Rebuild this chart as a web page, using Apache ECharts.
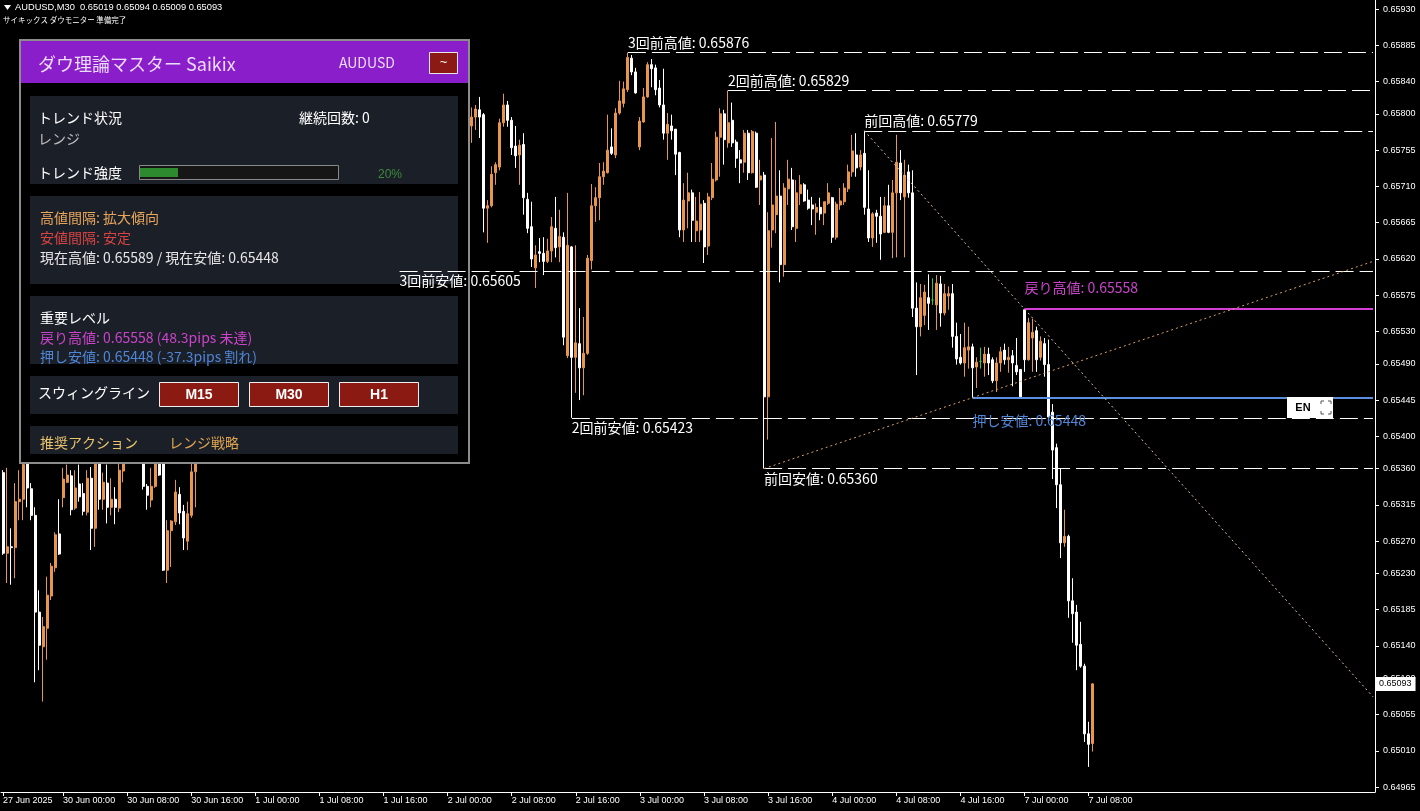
<!DOCTYPE html>
<html><head><meta charset="utf-8">
<script src="https://cdn.jsdelivr.net/npm/echarts@6/dist/echarts.min.js"></script>
<style>html,body{margin:0;padding:0;background:#000;overflow:hidden}#c{width:1420px;height:811px}</style>
</head><body><div id="c"></div>
<script>
// ---------- DATA ----------
const symbolInfo = 'AUDUSD,M30  0.65019 0.65094 0.65009 0.65093';
const statusText = 'サイキックス ダウモニター 準備完了';
// session days: [day label, first half-hour slot, end slot]
const sessionDays = [['27 Jun',33,48],['30 Jun',0,48],['1 Jul',0,48],['2 Jul',0,48],['3 Jul',0,48],['4 Jul',0,48],['7 Jul',0,48],['8 Jul',0,48]];
const visibleBars = 343;
const xTickCats = ['27 Jun 16:30','30 Jun 00:00','30 Jun 08:00','30 Jun 16:00','1 Jul 00:00','1 Jul 08:00','1 Jul 16:00','2 Jul 00:00','2 Jul 08:00','2 Jul 16:00','3 Jul 00:00','3 Jul 08:00','3 Jul 16:00','4 Jul 00:00','4 Jul 08:00','4 Jul 16:00','7 Jul 00:00','7 Jul 08:00'];
const xTickText = ['27 Jun 2025','30 Jun 00:00','30 Jun 08:00','30 Jun 16:00','1 Jul 00:00','1 Jul 08:00','1 Jul 16:00','2 Jul 00:00','2 Jul 08:00','2 Jul 16:00','3 Jul 00:00','3 Jul 08:00','3 Jul 16:00','4 Jul 00:00','4 Jul 08:00','4 Jul 16:00','7 Jul 00:00','7 Jul 08:00'];
const yTickLabels = ['0.65930','0.65885','0.65840','0.65800','0.65755','0.65710','0.65665','0.65620','0.65575','0.65530','0.65490','0.65445','0.65400','0.65360','0.65315','0.65270','0.65230','0.65185','0.65140','0.65100','0.65055','0.65010','0.64965'];
const priceMin = 0.649589, priceMax = 0.659412;

const opens = [0.65355,0.65255,0.65263,0.65262,0.65319,0.65322,0.65368,0.65335,0.65302,0.65182,0.65139,0.65162,0.65202,0.65237,0.65279,0.65324,0.65343,0.65351,0.65311,0.65341,0.65329,0.65306,0.65348,0.65286,0.65377,0.65322,0.65342,0.65312,0.65322,0.65311,0.65357,0.65377,0.65395,0.65388,0.65400,0.65385,0.65338,0.65321,0.65338,0.65377,0.65373,0.65234,0.65283,0.65294,0.65328,0.65307,0.65270,0.65302,0.65356,
0.65377,0.65388,0.65401,0.65396,0.65414,0.65428,0.65420,0.65433,0.65450,0.65462,0.65455,0.65468,0.65485,0.65476,0.65488,0.65505,0.65515,0.65510,0.65524,0.65540,0.65552,0.65546,0.65565,0.65584,0.65594,0.65605,0.65598,0.65620,0.65640,0.65655,0.65648,0.65662,0.65684,0.65698,0.65690,0.65706,0.65721,0.65715,0.65702,0.65690,0.65676,0.65688,0.65670,0.65655,0.65664,0.65650,0.65636,0.65645,0.65630,0.65618,0.65628,0.65622,0.65645,0.65662,0.65684,0.65696,0.65714,0.65728,0.65740,0.65730,0.65752,0.65768,0.65760,0.65776,0.65788,0.65778,0.65790,0.65798,
0.65785,0.65796,0.65805,0.65799,0.65683,0.65686,0.65727,0.65734,0.65789,0.65811,0.65792,0.65760,0.65749,0.65762,0.65694,0.65660,0.65609,0.65629,0.65627,0.65617,0.65630,0.65658,0.65635,0.65647,0.65500,0.65635,0.65498,0.65515,0.65485,0.65503,0.65618,0.65686,0.65696,0.65722,0.65727,0.65759,0.65749,0.65801,0.65813,0.65830,0.65869,0.65852,0.65759,0.65790,0.65821,0.65861,0.65857,0.65832,0.65811,0.65776,0.65785,0.65781,0.65752,0.65656,0.65692,0.65702,0.65655,0.65656,0.65689,0.65636,0.65696,0.65718,0.65771,0.65800,0.65764,0.65792,0.65765,0.65743,0.65740,0.65776,0.65727,0.65776,0.65718,0.65724,0.65449,0.65656,0.65675,0.65698,0.65613,0.65707,0.65718,0.65658,0.65701,0.65712,0.65693,0.65687,0.65678,0.65684,0.65677,0.65689,0.65696,0.65647,0.65687,0.65691,0.65707,0.65728,0.65749,0.65734,0.65751,0.65682,0.65646,0.65677,0.65673,0.65653,0.65686,0.65653,0.65702,0.65739,0.65697,0.65728,0.65702,0.65559,0.65536,0.65550,0.65572,0.65569,0.65563,0.65589,0.65553,0.65574,0.65577,0.65524,0.65498,0.65491,0.65507,0.65511,0.65486,0.65493,0.65491,0.65502,0.65495,0.65469,0.65491,0.65507,0.65495,0.65500,0.65488,0.65483,0.65557,0.65495,0.65522,0.65531,0.65498,0.65515,0.65489,0.65430,0.65386,0.65340,0.65268,0.65276,0.65196,0.65182,0.65142,0.65115,0.65031,0.65019];
const highs = [0.65358,0.65361,0.65286,0.65342,0.65358,0.65377,0.65385,0.65342,0.65312,0.65209,0.65176,0.65226,0.65243,0.65281,0.65322,0.65361,0.65365,0.65358,0.65358,0.65365,0.65342,0.65358,0.65362,0.65389,0.65386,0.65355,0.65365,0.65348,0.65337,0.65371,0.65389,0.65405,0.65410,0.65412,0.65410,0.65395,0.65341,0.65361,0.65383,0.65385,0.65380,0.65296,0.65296,0.65346,0.65337,0.65315,0.65319,0.65372,0.65389,
0.65392,0.65405,0.65412,0.65418,0.65432,0.65440,0.65436,0.65455,0.65468,0.65475,0.65472,0.65490,0.65498,0.65492,0.65510,0.65522,0.65530,0.65528,0.65545,0.65558,0.65566,0.65570,0.65590,0.65600,0.65612,0.65618,0.65625,0.65645,0.65662,0.65672,0.65668,0.65690,0.65705,0.65715,0.65712,0.65728,0.65740,0.65732,0.65718,0.65705,0.65694,0.65700,0.65682,0.65672,0.65676,0.65662,0.65650,0.65655,0.65642,0.65635,0.65640,0.65650,0.65668,0.65690,0.65702,0.65720,0.65735,0.65748,0.65752,0.65758,0.65775,0.65785,0.65782,0.65795,0.65802,0.65796,0.65806,0.65808,
0.65808,0.65811,0.65821,0.65801,0.65693,0.65735,0.65740,0.65794,0.65825,0.65816,0.65796,0.65785,0.65768,0.65776,0.65702,0.65691,0.65637,0.65646,0.65647,0.65645,0.65672,0.65697,0.65681,0.65653,0.65702,0.65636,0.65637,0.65559,0.65548,0.65625,0.65713,0.65709,0.65739,0.65740,0.65799,0.65782,0.65807,0.65841,0.65840,0.65876,0.65873,0.65857,0.65796,0.65832,0.65864,0.65868,0.65861,0.65842,0.65856,0.65801,0.65799,0.65781,0.65753,0.65714,0.65727,0.65706,0.65697,0.65703,0.65693,0.65702,0.65739,0.65778,0.65807,0.65805,0.65829,0.65814,0.65768,0.65755,0.65780,0.65780,0.65780,0.65778,0.65743,0.65728,0.65678,0.65770,0.65790,0.65730,0.65714,0.65743,0.65733,0.65718,0.65724,0.65714,0.65706,0.65697,0.65689,0.65696,0.65691,0.65714,0.65697,0.65691,0.65708,0.65714,0.65737,0.65774,0.65776,0.65755,0.65779,0.65730,0.65678,0.65681,0.65697,0.65697,0.65712,0.65718,0.65774,0.65755,0.65743,0.65737,0.65730,0.65591,0.65589,0.65588,0.65601,0.65596,0.65600,0.65599,0.65589,0.65586,0.65589,0.65541,0.65527,0.65541,0.65536,0.65515,0.65498,0.65510,0.65511,0.65510,0.65498,0.65498,0.65511,0.65515,0.65511,0.65507,0.65522,0.65483,0.65558,0.65547,0.65546,0.65536,0.65524,0.65522,0.65520,0.65440,0.65391,0.65360,0.65309,0.65278,0.65224,0.65191,0.65170,0.65118,0.65046,0.65094];
const lows = [0.65253,0.65218,0.65216,0.65224,0.65296,0.65296,0.65312,0.65296,0.65095,0.65110,0.65071,0.65123,0.65197,0.65232,0.65253,0.65312,0.65342,0.65302,0.65309,0.65319,0.65302,0.65302,0.65259,0.65263,0.65309,0.65309,0.65292,0.65302,0.65291,0.65306,0.65343,0.65370,0.65380,0.65379,0.65372,0.65334,0.65309,0.65312,0.65336,0.65351,0.65233,0.65218,0.65238,0.65290,0.65291,0.65259,0.65259,0.65299,0.65312,
0.65372,0.65380,0.65393,0.65390,0.65409,0.65415,0.65412,0.65428,0.65442,0.65448,0.65446,0.65462,0.65470,0.65465,0.65480,0.65497,0.65505,0.65498,0.65518,0.65532,0.65540,0.65541,0.65560,0.65572,0.65585,0.65590,0.65594,0.65612,0.65630,0.65640,0.65636,0.65655,0.65672,0.65680,0.65676,0.65700,0.65708,0.65695,0.65685,0.65670,0.65660,0.65665,0.65648,0.65640,0.65645,0.65630,0.65620,0.65625,0.65612,0.65610,0.65605,0.65615,0.65638,0.65655,0.65670,0.65688,0.65700,0.65715,0.65722,0.65726,0.65745,0.65752,0.65748,0.65765,0.65770,0.65768,0.65780,0.65780,
0.65764,0.65780,0.65770,0.65653,0.65640,0.65684,0.65712,0.65730,0.65784,0.65784,0.65749,0.65733,0.65712,0.65675,0.65652,0.65610,0.65584,0.65616,0.65600,0.65615,0.65616,0.65622,0.65616,0.65513,0.65497,0.65423,0.65454,0.65445,0.65451,0.65501,0.65607,0.65666,0.65668,0.65712,0.65726,0.65749,0.65745,0.65799,0.65808,0.65827,0.65848,0.65825,0.65755,0.65789,0.65820,0.65833,0.65823,0.65808,0.65768,0.65743,0.65768,0.65724,0.65647,0.65641,0.65658,0.65641,0.65641,0.65641,0.65615,0.65625,0.65693,0.65716,0.65722,0.65737,0.65758,0.65759,0.65733,0.65714,0.65727,0.65718,0.65726,0.65708,0.65687,0.65360,0.65396,0.65634,0.65652,0.65591,0.65598,0.65687,0.65656,0.65641,0.65687,0.65691,0.65681,0.65662,0.65650,0.65668,0.65662,0.65687,0.65640,0.65644,0.65681,0.65687,0.65703,0.65722,0.65722,0.65730,0.65675,0.65641,0.65635,0.65640,0.65619,0.65652,0.65652,0.65621,0.65622,0.65693,0.65622,0.65696,0.65548,0.65476,0.65524,0.65538,0.65532,0.65563,0.65532,0.65536,0.65550,0.65557,0.65510,0.65489,0.65489,0.65474,0.65484,0.65448,0.65460,0.65484,0.65474,0.65476,0.65466,0.65455,0.65480,0.65489,0.65479,0.65462,0.65476,0.65449,0.65480,0.65494,0.65480,0.65480,0.65494,0.65474,0.65421,0.65347,0.65311,0.65249,0.65263,0.65175,0.65144,0.65110,0.65113,0.65021,0.64990,0.65009];
const closes = [0.65255,0.65263,0.65262,0.65319,0.65322,0.65365,0.65336,0.65302,0.65182,0.65141,0.65164,0.65203,0.65239,0.65278,0.65254,0.65347,0.65352,0.65309,0.65336,0.65325,0.65307,0.65348,0.65286,0.65377,0.65322,0.65343,0.65312,0.65322,0.65312,0.65358,0.65377,0.65395,0.65388,0.65400,0.65385,0.65338,0.65327,0.65338,0.65373,0.65352,0.65234,0.65283,0.65295,0.65331,0.65305,0.65274,0.65304,0.65356,0.65377,
0.65388,0.65401,0.65396,0.65414,0.65428,0.65420,0.65433,0.65450,0.65462,0.65455,0.65468,0.65485,0.65476,0.65488,0.65505,0.65515,0.65510,0.65524,0.65540,0.65552,0.65546,0.65565,0.65584,0.65594,0.65605,0.65598,0.65620,0.65640,0.65655,0.65648,0.65662,0.65684,0.65698,0.65690,0.65706,0.65721,0.65715,0.65702,0.65690,0.65676,0.65688,0.65670,0.65655,0.65664,0.65650,0.65636,0.65645,0.65630,0.65618,0.65628,0.65622,0.65645,0.65662,0.65684,0.65696,0.65714,0.65728,0.65740,0.65730,0.65752,0.65768,0.65760,0.65776,0.65788,0.65778,0.65790,0.65798,0.65785,
0.65796,0.65806,0.65796,0.65683,0.65686,0.65725,0.65737,0.65789,0.65811,0.65792,0.65758,0.65748,0.65761,0.65696,0.65658,0.65620,0.65625,0.65627,0.65617,0.65630,0.65660,0.65634,0.65648,0.65523,0.65637,0.65498,0.65516,0.65485,0.65503,0.65621,0.65686,0.65696,0.65722,0.65729,0.65755,0.65751,0.65801,0.65816,0.65831,0.65870,0.65852,0.65826,0.65791,0.65821,0.65861,0.65856,0.65830,0.65811,0.65776,0.65787,0.65779,0.65750,0.65656,0.65693,0.65702,0.65668,0.65667,0.65688,0.65635,0.65697,0.65719,0.65771,0.65800,0.65768,0.65789,0.65764,0.65745,0.65739,0.65776,0.65727,0.65778,0.65709,0.65723,0.65449,0.65655,0.65687,0.65698,0.65613,0.65708,0.65719,0.65660,0.65702,0.65712,0.65692,0.65683,0.65682,0.65684,0.65676,0.65691,0.65702,0.65647,0.65688,0.65692,0.65708,0.65728,0.65754,0.65733,0.65749,0.65684,0.65646,0.65676,0.65673,0.65651,0.65686,0.65653,0.65702,0.65740,0.65702,0.65724,0.65702,0.65559,0.65536,0.65572,0.65579,0.65565,0.65569,0.65590,0.65553,0.65577,0.65577,0.65524,0.65496,0.65491,0.65510,0.65511,0.65485,0.65492,0.65493,0.65502,0.65491,0.65469,0.65491,0.65505,0.65495,0.65498,0.65491,0.65480,0.65449,0.65495,0.65541,0.65529,0.65495,0.65518,0.65489,0.65424,0.65383,0.65340,0.65268,0.65276,0.65196,0.65180,0.65141,0.65115,0.65031,0.65018,0.65093];

// swing levels: [label, start bar (category), price, above/below]
const swingLevels = [
  ['3回前高値', '2 Jul 22:30', 0.65876, 'top'],
  ['2回前高値', '3 Jul 11:00', 0.65829, 'top'],
  ['前回高値',  '4 Jul 04:00', 0.65779, 'top'],
  ['3回前安値', '1 Jul 18:00', 0.65605, 'bottom'],
  ['2回前安値', '2 Jul 15:30', 0.65423, 'bottom'],
  ['前回安値',  '3 Jul 15:30', 0.65360, 'bottom']
];
const returnHigh = ['戻り高値', '7 Jul 00:00', 0.65558];
const pushLow = ['押し安値', '4 Jul 17:30', 0.65448];
// trend lines: [start cat, start price, end price at right edge]
const trendLow = ['3 Jul 15:30', 0.65360, 0.65617];
const trendHigh = ['4 Jul 04:00', 0.65779, 0.65077];
const lastPrice = 0.65093;

// ---------- BUILD ----------
const pad = n => (n < 10 ? '0' : '') + n;
const categories = [];
sessionDays.forEach(([d, s, e]) => { for (let k = s; k < e; k++) categories.push(d + ' ' + pad(Math.floor(k / 2)) + ':' + (k % 2 ? '30' : '00')); });
categories.length = visibleBars;
const lastCat = categories[categories.length - 1];
const ohlc = opens.map((o, i) => [o, closes[i], lows[i], highs[i]]);
const tickMap = {}; xTickCats.forEach((c, i) => tickMap[c] = xTickText[i]);
const isTick = (i, v) => tickMap[v] !== undefined;

const CJK = '"Noto Sans CJK JP", "Noto Sans CJK SC", sans-serif';
const markData = [];
swingLevels.forEach(([name, cat, p, side]) => {
  markData.push([
    { coord: [cat, p], lineStyle: { color: '#ffffff', type: [18, 6], width: 1 },
      label: { show: true, position: side === 'top' ? 'insideStartTop' : 'insideStartBottom', formatter: name + ': ' + p.toFixed(5), color: '#ffffff', fontSize: 14, fontFamily: CJK, distance: [0, 3] } },
    { coord: [lastCat, p] }
  ]);
});
markData.push([
  { coord: [returnHigh[1], returnHigh[2]], lineStyle: { color: '#d63fd6', type: 'solid', width: 2 },
    label: { show: true, position: 'insideStartTop', formatter: returnHigh[0] + ': ' + returnHigh[2].toFixed(5), color: '#cc44cc', fontSize: 14, fontFamily: CJK, distance: [0, 14] } },
  { coord: [lastCat, returnHigh[2]] }
]);
markData.push([
  { coord: [pushLow[1], pushLow[2]], lineStyle: { color: '#5b8fe0', type: 'solid', width: 2 },
    label: { show: true, position: 'insideStartBottom', formatter: pushLow[0] + ': ' + pushLow[2].toFixed(5), color: '#4f86d8', fontSize: 14, fontFamily: CJK, distance: [0, 16] } },
  { coord: [lastCat, pushLow[2]] }
]);
markData.push([
  { coord: [trendLow[0], trendLow[1]], lineStyle: { color: '#d9a066', type: [2, 3], width: 1 }, label: { show: false } },
  { coord: [lastCat, trendLow[2]] }
]);
markData.push([
  { coord: [trendHigh[0], trendHigh[1]], lineStyle: { color: '#dcc2a2', type: [2, 3], width: 1 }, label: { show: false } },
  { coord: [lastCat, trendHigh[2]] }
]);
markData.push([
  { coord: [categories[0], lastPrice], lineStyle: { color: 'rgba(0,0,0,0)', width: 1 },
    label: { show: true, position: 'end', formatter: lastPrice.toFixed(5), color: '#000000', backgroundColor: '#ffffff', fontSize: 9, fontFamily: 'Liberation Sans', padding: [3, 4, 2, 4], distance: 2 } },
  { coord: [lastCat, lastPrice] }
]);

// ---------- PANEL (UI overlay) ----------
const G = [];
const rect = (x, y, w, h, fill, stroke, lw, z) => G.push({ type: 'rect', shape: { x, y, width: w, height: h }, style: { fill, stroke: stroke || null, lineWidth: lw || 0 }, z: z || 4, silent: true });
const text = (x, y, t, fill, size, opt, z) => G.push({ type: 'text', z: z || 6, silent: true, style: Object.assign({ text: t, x, y, fill, fontSize: size, fontFamily: CJK, verticalAlign: 'middle', align: 'left' }, opt || {}) });
// header
G.push({ type: 'polygon', shape: { points: [[4, 5], [11, 5], [7.5, 10]] }, style: { fill: '#ffffff' }, z: 6, silent: true });
text(15, 7.5, symbolInfo, '#ffffff', 9.3, { fontFamily: 'Liberation Sans' });
text(3, 20, statusText, '#ffffff', 7.5);
// panel
rect(20, 40, 449, 423, '#000000', '#8c8c8c', 2, 3);
rect(21, 41, 447, 42, '#8a1ecb', null, 0, 4);
text(38, 64, 'ダウ理論マスター Saikix', '#eadcf6', 18);
text(339, 63, 'AUDUSD', '#eadcf6', 14);
rect(429.5, 52.5, 28, 21, '#8b1a14', '#e6e6e6', 1, 5);
text(443.5, 62, '~', '#ffffff', 13, { align: 'center', fontFamily: 'Liberation Sans' });
const secBg = '#1b1f28';
rect(30, 96, 428, 88, secBg);
text(38, 118, 'トレンド状況', '#ffffff', 14);
text(299, 118, '継続回数: 0', '#ffffff', 14);
text(38, 139, 'レンジ', '#bdbdbd', 14);
text(38, 173, 'トレンド強度', '#ffffff', 14);
rect(139.5, 165.5, 199, 14, '#161616', '#8a8a8a', 1, 5);
rect(140, 168, 38, 9, '#2e8a2e', null, 0, 6);
text(378, 175, '20%', '#3d8a3d', 12, { fontFamily: 'Liberation Sans' });
rect(30, 196, 428, 88, secBg);
text(40, 218, '高値間隔: 拡大傾向', '#e8a65c', 14);
text(40, 238, '安値間隔: 安定', '#d84444', 14);
text(40, 258, '現在高値: 0.65589 / 現在安値: 0.65448', '#e6e6e6', 14);
rect(30, 296, 428, 68, secBg);
text(40, 318, '重要レベル', '#ffffff', 14);
text(40, 338, '戻り高値: 0.65558 (48.3pips 未達)', '#cc44cc', 14);
text(40, 357, '押し安値: 0.65448 (-37.3pips 割れ)', '#4f86d8', 14);
rect(30, 376, 428, 38, secBg);
text(38, 393, 'スウィングライン', '#ffffff', 14);
[['M15', 159], ['M30', 249], ['H1', 339]].forEach(([t, x]) => {
  rect(x + 0.5, 382.5, 79, 24, '#8b1a12', '#f0f0f0', 1, 5);
  text(x + 40, 395, t, '#ffffff', 14, { align: 'center', fontFamily: 'Liberation Sans', fontWeight: 'bold' });
});
rect(30, 426, 428, 28, secBg);
text(40, 443, '推奨アクション', '#e8c46a', 14);
text(169, 443, 'レンジ戦略', '#e0a450', 14);
// EN button
rect(1287, 397, 46, 21, '#ffffff', null, 0, 12);
text(1303, 408, 'EN', '#000000', 11, { align: 'center', fontFamily: 'Liberation Sans', fontWeight: 'bold' }, 13);
[[1321, 401, 1, 1], [1331, 401, -1, 1], [1321, 414, 1, -1], [1331, 414, -1, -1]].forEach(([x, y, sx, sy]) =>
  G.push({ type: 'polyline', shape: { points: [[x, y + 3 * sy], [x, y], [x + 3 * sx, y]] }, style: { stroke: '#555', lineWidth: 1, fill: null }, z: 13, silent: true }));

// ---------- CHART ----------
const chart = echarts.init(document.getElementById('c'), null, { renderer: 'canvas' });
chart.setOption({
  backgroundColor: '#000000',
  animation: false,
  grid: { left: 1, right: 45, top: 0, bottom: 19 },
  xAxis: {
    type: 'category', data: categories, boundaryGap: true,
    axisLine: { show: true, lineStyle: { color: '#ffffff', width: 1 } },
    axisTick: { show: true, alignWithLabel: true, interval: isTick, length: 4, lineStyle: { color: '#ffffff' } },
    axisLabel: { interval: isTick, formatter: v => tickMap[v] || '', align: 'left', color: '#ffffff', fontSize: 9, fontFamily: 'Liberation Sans', margin: 4 },
    splitLine: { show: false }
  },
  yAxis: {
    type: 'value', position: 'right', min: priceMin, max: priceMax, scale: true,
    axisLine: { show: true, onZero: false, lineStyle: { color: '#ffffff', width: 1 } },
    axisTick: { show: true, length: 4, customValues: yTickLabels.map(Number), lineStyle: { color: '#ffffff' } },
    axisLabel: { customValues: yTickLabels.map(Number), formatter: v => v.toFixed(5), color: '#ffffff', fontSize: 9, fontFamily: 'Liberation Sans', margin: 8 },
    splitLine: { show: false }
  },
  series: [{
    type: 'candlestick', data: ohlc, barWidth: 2.5, z: 2,
    itemStyle: { color: '#e8954e', color0: '#ffffff', borderColor: '#e8954e', borderColor0: '#ffffff', borderColorDoji: '#33cc33', borderWidth: 1 },
    markLine: { silent: true, symbol: ['none', 'none'], z: 10, animation: false, data: markData }
  }],
  graphic: { elements: G }
});
</script></body></html>
